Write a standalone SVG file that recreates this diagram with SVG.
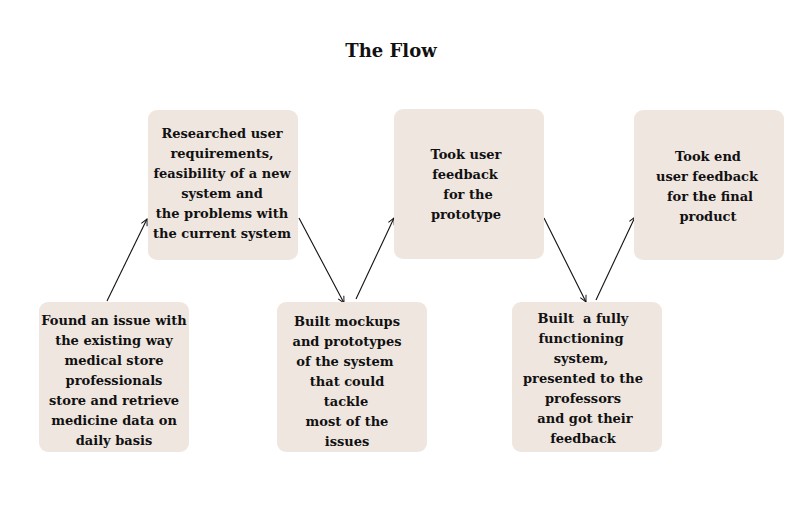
<svg xmlns="http://www.w3.org/2000/svg" width="804" height="517" viewBox="0 0 804 517">
<defs>
<style>
.box{fill:#efe6e0;}
.t{font-family:"DejaVu Serif","Liberation Serif",serif;font-weight:bold;font-size:13px;fill:#111;text-anchor:middle;white-space:pre;}
.title{font-family:"DejaVu Serif","Liberation Serif",serif;font-weight:bold;font-size:18px;fill:#111;text-anchor:middle;}
.c{stroke:#111;stroke-width:1.1;fill:none;marker-end:url(#ah);}
</style>
<marker id="ah" viewBox="0 0 10 10" refX="9" refY="5" markerWidth="8" markerHeight="8" markerUnits="userSpaceOnUse" orient="auto">
<path d="M1,1 L9,5 L1,9" fill="none" stroke="#111" stroke-width="1.2"/>
</marker>
</defs>
<rect width="804" height="517" fill="#ffffff"/>
<text class="title" x="391" y="57">The Flow</text>
<g id="connectors">
<line class="c" x1="107" y1="301" x2="147" y2="219"/>
<line class="c" x1="299" y1="218" x2="344" y2="303"/>
<line class="c" x1="356" y1="299" x2="394" y2="218"/>
<line class="c" x1="544" y1="218" x2="586" y2="302"/>
<line class="c" x1="596" y1="300" x2="635" y2="217"/>
</g>
<g id="n1">
<rect class="box" x="39" y="302" width="150" height="150" rx="9"/>
<text class="t" x="114" y="325">Found an issue with</text>
<text class="t" x="114" y="345">the existing way</text>
<text class="t" x="114" y="365">medical store</text>
<text class="t" x="114" y="385">professionals</text>
<text class="t" x="114" y="405">store and retrieve</text>
<text class="t" x="114" y="425">medicine data on</text>
<text class="t" x="114" y="445">daily basis</text>
</g>
<g id="n2">
<rect class="box" x="148" y="110" width="150" height="150" rx="9"/>
<text class="t" x="222" y="138">Researched user</text>
<text class="t" x="222" y="158">requirements,</text>
<text class="t" x="222" y="178">feasibility of a new</text>
<text class="t" x="222" y="198">system and</text>
<text class="t" x="222" y="218">the problems with</text>
<text class="t" x="222" y="238">the current system</text>
</g>
<g id="n3">
<rect class="box" x="277" y="302" width="150" height="150" rx="9"/>
<text class="t" x="347" y="326">Built mockups</text>
<text class="t" x="347" y="346">and prototypes</text>
<text class="t" x="345" y="366">of the system</text>
<text class="t" x="347" y="386">that could</text>
<text class="t" x="346" y="406">tackle</text>
<text class="t" x="347" y="426">most of the</text>
<text class="t" x="347" y="446">issues</text>
</g>
<g id="n4">
<rect class="box" x="394" y="109" width="150" height="150" rx="9"/>
<text class="t" x="466" y="159">Took user</text>
<text class="t" x="465" y="179">feedback</text>
<text class="t" x="468" y="199">for the</text>
<text class="t" x="466" y="219">prototype</text>
</g>
<g id="n5">
<rect class="box" x="512" y="302" width="150" height="150" rx="9"/>
<text class="t" x="583" y="323">Built  a fully</text>
<text class="t" x="581" y="343">functioning</text>
<text class="t" x="581" y="363">system,</text>
<text class="t" x="583" y="383">presented to the</text>
<text class="t" x="583" y="403">professors</text>
<text class="t" x="585" y="423">and got their</text>
<text class="t" x="583" y="443">feedback</text>
</g>
<g id="n6">
<rect class="box" x="634" y="110" width="150" height="150" rx="9"/>
<text class="t" x="708" y="161">Took end</text>
<text class="t" x="707" y="181">user feedback</text>
<text class="t" x="710" y="201">for the final</text>
<text class="t" x="708" y="221">product</text>
</g>
</svg>
